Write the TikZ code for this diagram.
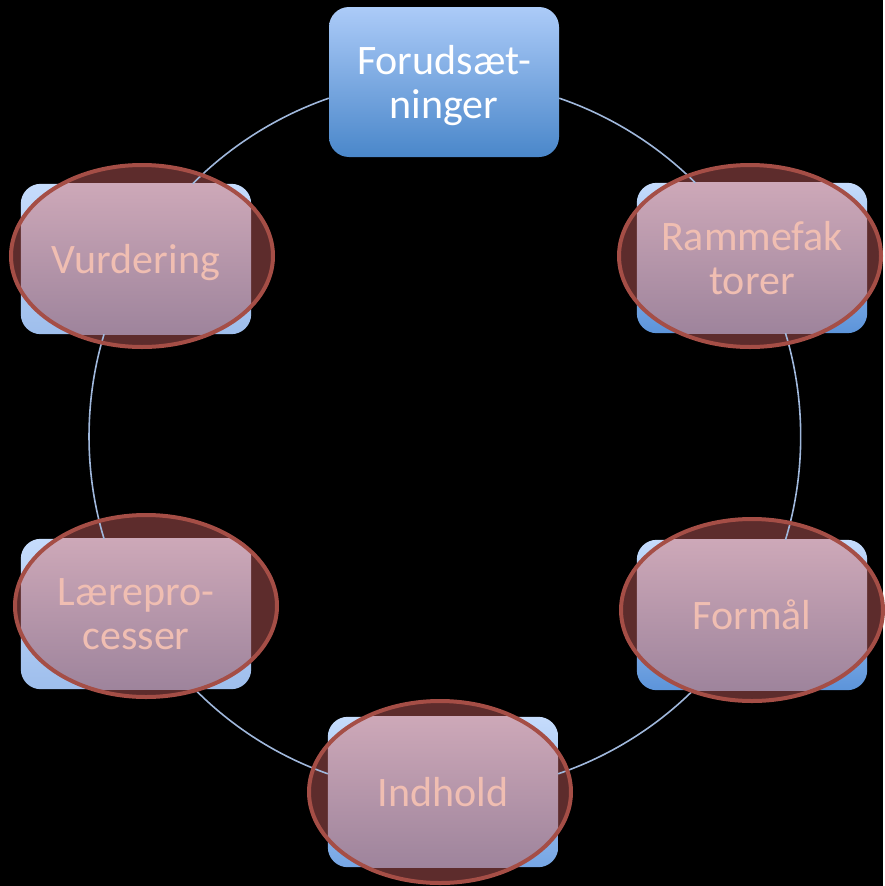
\documentclass[tikz,border=0pt]{standalone}
\usepackage{fontspec}
\setmainfont{Carlito}
\usetikzlibrary{shapes.geometric}
\pgfdeclarelayer{bg}
\pgfsetlayers{bg,main}
\definecolor{leadA}{RGB}{172,203,248}
\definecolor{leadB}{RGB}{74,135,202}
\definecolor{boxA}{RGB}{198,220,252}
\definecolor{boxL}{RGB}{158,190,236}
\definecolor{boxM}{RGB}{118,166,228}
\definecolor{boxR}{RGB}{92,148,218}
\definecolor{pinkA}{RGB}{205,168,184}
\definecolor{pinkB}{RGB}{158,132,156}
\definecolor{pinktext}{RGB}{240,190,178}
\definecolor{ringfill}{RGB}{93,44,44}
\definecolor{ringline}{RGB}{165,78,70}
\definecolor{arc}{RGB}{160,184,220}

% box, pink inner part and dark ellipse behind a node
\newcommand{\ringed}[3]{%
  \fill[rounded corners=20pt, top color=boxA, bottom color=#3] (#1.north west) rectangle (#1.south east);
  \fill[ringfill] #2 ellipse [x radius=131, y radius=91];
  \begin{scope}
    \clip #2 ellipse [x radius=131, y radius=91];
    \fill[top color=pinkA, bottom color=pinkB] (#1.north west) rectangle (#1.south east);
  \end{scope}
}

\begin{document}
\begin{tikzpicture}[x=1pt, y=-1pt, box/.style={rectangle, minimum width=230pt, minimum height=150pt, inner sep=0pt, text depth=0pt, align=center, font=\fontsize{42}{44}\selectfont}, lead/.style={box, rounded corners=20pt, top color=leadA, bottom color=leadB, text=white}, over/.style={box, text=pinktext}, link/.style={draw=arc, line width=1.6pt, looseness=0.86}, ring/.style={draw=ringline, line width=4pt}]
            % nodes
            \node[lead] (forud) at (444,82) {Forudsæt-\\ninger};
            \node[over] (ramme) at (752,258) {Rammefak\\torer};
            \node[over] (formaal) at (752,615) {Formål};
            \node[over] (indhold) at (443,792) {Indhold};
            \node[over] (laere) at (136,614) {Lærepro-\\cesser};
            \node[over] (vurd) at (136,259) {Vurdering};
            \begin{pgfonlayer}{bg}
                \fill[black] (0,0) rectangle (883,886);
                \ringed{ramme}{(750,256)}{boxR}
                \ringed{formaal}{(752,610)}{boxR}
                \ringed{indhold}{(440,792)}{boxM}
                \ringed{laere}{(146,606)}{boxL}
                \ringed{vurd}{(142,256)}{boxL}
                % edges
                \draw [link] (forud.-8) to[bend left=13] (ramme.127);
                \draw [link] (ramme.-66) to[bend left=17] (formaal.66);
                \draw [link] (formaal.232) to[bend left=13] (indhold.9);
                \draw [link] (indhold.171) to[bend left=13] (laere.-52);
                \draw [link] (laere.113) to[bend left=17] (vurd.247);
                \draw [link] (vurd.53) to[bend left=13] (forud.188);
                % rims
                \draw [ring] (750,256) ellipse [x radius=131, y radius=91];
                \draw [ring] (752,610) ellipse [x radius=131, y radius=91];
                \draw [ring] (440,792) ellipse [x radius=131, y radius=91];
                \draw [ring] (146,606) ellipse [x radius=131, y radius=91];
                \draw [ring] (142,256) ellipse [x radius=131, y radius=91];
            \end{pgfonlayer}
        \end{tikzpicture}
\end{document}
